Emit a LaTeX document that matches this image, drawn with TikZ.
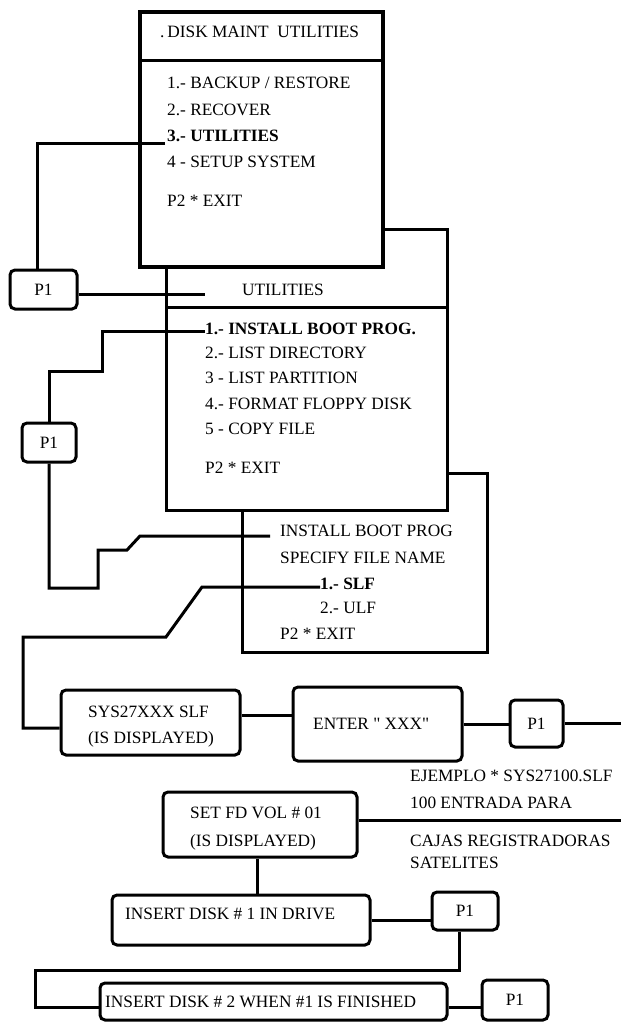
\documentclass[tikz,border=0pt]{standalone}
\usepackage{fontspec}
\setmainfont{Liberation Serif}[Ligatures=TeXOff]
\newcommand\fs{\fontsize{17.3}{20}\selectfont}
\tikzset{
  ln/.style={line width=3pt, line join=miter},
  rbox/.style={draw, line width=3pt, rounded corners=5pt, inner sep=0pt, font=\fs},
  sqbox/.style={draw, line width=3.2pt, inner sep=0pt},
  txt/.style={inner sep=0pt, anchor=base west, font=\fs},
  ctxt/.style={inner sep=0pt, anchor=base, font=\fs},
}
\begin{document}
\begin{tikzpicture}[x=1pt,y=-1pt]
\useasboundingbox (0,0) rectangle (621,1022);

% ---------- top box: DISK MAINT UTILITIES ----------
\node[sqbox, minimum width=243pt, minimum height=255pt] (dm) at (261.5,139.5) {};
\coordinate (dmd1) at (140,61); \coordinate (dmd2) at (383,61);
\draw[ln] (dmd1) -- (dmd2);
\node[txt] (dmh) at (160,38) {.\,DISK MAINT\ \ UTILITIES};
\node[txt] (dm1) at (167,89) {1.- BACKUP / RESTORE};
\node[txt] (dm2) at (167,116) {2.- RECOVER};
\node[txt] (dm3) at (167,141) {\bfseries 3.- UTILITIES};
\node[txt] (dm4) at (167,167) {4 - SETUP SYSTEM};
\node[txt] (dm5) at (167,206) {P2 * EXIT};

% ---------- P1 (first) ----------
\node[rbox, minimum width=67pt, minimum height=39pt] (p1a) at (43.5,289.5) {P1};
\coordinate (a0) at (165,143); \coordinate (a1) at (37,143);
\draw[ln] (a0) -- (a1) -- (a1 |- p1a.north);
\coordinate (ah) at (205,294);
\draw[ln] ([yshift=-4.5pt]p1a.east) -- (ah);

% ---------- UTILITIES box ----------
\coordinate (u0) at (166,267); \coordinate (u1) at (166,510);
\coordinate (u2) at (447,510); \coordinate (u3) at (447,229);
\coordinate (u4) at (383,229);
\draw[ln] (u0) -- (u1) -- (u2) -- (u3) -- (u4);
\coordinate (ud1) at (166,307); \coordinate (ud2) at (447,307);
\draw[ln] (ud1) -- (ud2);
\node[ctxt] (uh) at (283,295) {UTILITIES};
\node[txt] (ut1) at (205,334) {\bfseries 1.- INSTALL BOOT PROG.};
\node[txt] (ut2) at (205,358) {2.- LIST DIRECTORY};
\node[txt] (ut3) at (205,383) {3 - LIST PARTITION};
\node[txt] (ut4) at (205,409) {4.- FORMAT FLOPPY DISK};
\node[txt] (ut5) at (205,434) {5 - COPY FILE};
\node[txt] (ut6) at (205,473) {P2 * EXIT};

% ---------- P1 (second) ----------
\node[rbox, minimum width=54pt, minimum height=39pt] (p1b) at (49,442.5) {P1};
\coordinate (b0) at (205,331); \coordinate (b1) at (102,331);
\coordinate (b2) at (102,371); \coordinate (b3) at (49,371);
\draw[ln] (b0) -- (b1) -- (b2) -- (b3) -- (p1b.north);
\coordinate (c1) at (49,588); \coordinate (c2) at (98,588);
\coordinate (c3) at (98,550); \coordinate (c4) at (127,550);
\coordinate (c5) at (140,536); \coordinate (c6) at (270,536);
\draw[ln] (p1b.south) -- (c1) -- (c2) -- (c3) -- (c4) -- (c5) -- (c6);

% ---------- INSTALL BOOT PROG box ----------
\coordinate (i0) at (242,510); \coordinate (i1) at (242,652);
\coordinate (i2) at (487,652); \coordinate (i3) at (487,473);
\coordinate (i4) at (447,473);
\draw[ln] (i0) -- (i1) -- (i2) -- (i3) -- (i4);
\node[txt] (it1) at (280,536) {INSTALL BOOT PROG};
\node[txt] (it2) at (280,563) {SPECIFY FILE NAME};
\node[txt] (it3) at (320,589) {\bfseries 1.- SLF};
\node[txt] (it4) at (320,613) {2.- ULF};
\node[txt] (it5) at (280,639) {P2 * EXIT};

% ---------- SYS27XXX / ENTER / P1 row ----------
\node[rbox, minimum width=179pt, minimum height=65pt] (sys) at (150.5,722.5) {};
\node[txt] (sys1) at (88,717) {SYS27XXX SLF};
\node[txt] (sys2) at (88,743) {(IS DISPLAYED)};
\node[rbox, minimum width=169pt, minimum height=74pt] (enter) at (377.5,724) {};
\node[txt] (ent) at (313,729) {ENTER " XXX"};
\node[rbox, minimum width=53pt, minimum height=47pt] (p1c) at (536.5,723.5) {P1};

\coordinate (d0) at (320,587); \coordinate (d1) at (202,587);
\coordinate (d2) at (166,637); \coordinate (d3) at (23,637);
\coordinate (d4) at (23,728);
\draw[ln] (d0) -- (d1) -- (d2) -- (d3) -- (d4) -- (d4 -| sys.west);
\draw[ln] ([yshift=7.5pt]sys.east) -- ([yshift=7.5pt]sys.east -| enter.west);
\draw[ln] (enter.east) -- (enter.east -| p1c.west);
\coordinate (r1) at (621,723.5);
\draw[ln] (p1c.east) -- (r1);

% ---------- example text ----------
\node[txt] (ex1) at (410,781) {EJEMPLO * SYS27100.SLF};
\node[txt] (ex2) at (410,808) {100 ENTRADA PARA};
\node[txt] (ex3) at (410,846) {CAJAS REGISTRADORAS};
\node[txt] (ex4) at (410,868) {SATELITES};

% ---------- SET FD VOL ----------
\node[rbox, minimum width=194pt, minimum height=65pt] (setfd) at (260,824.5) {};
\node[txt] (sf1) at (190,818) {SET FD VOL \# 01};
\node[txt] (sf2) at (190,846) {(IS DISPLAYED)};
\coordinate (r2) at (621,820);
\draw[ln] ([yshift=4.5pt]setfd.east) -- (r2);

% ---------- INSERT DISK #1 ----------
\node[rbox, minimum width=258pt, minimum height=50pt] (ins1) at (241,920) {};
\node[txt] (in1) at (125,919) {INSERT DISK \# 1 IN DRIVE};
\draw[ln] ([xshift=-3pt]setfd.south) -- ([xshift=-3pt]setfd.south |- ins1.north);
\node[rbox, minimum width=66pt, minimum height=38pt] (p1d) at (465,911) {P1};
\draw[ln] (ins1.east) -- (ins1.east -| p1d.west);

% ---------- INSERT DISK #2 ----------
\node[rbox, minimum width=347pt, minimum height=37pt] (ins2) at (273.5,1001.5) {};
\node[txt] (in2) at (105,1007) {INSERT DISK \# 2 WHEN \#1 IS FINISHED};
\node[rbox, minimum width=66pt, minimum height=40pt] (p1e) at (515,1000) {P1};
\coordinate (l1) at (459,970); \coordinate (l2) at (35,970);
\coordinate (l3) at (35,1007);
\draw[ln] ([xshift=-6pt]p1d.south) -- (l1) -- (l2) -- (l3) -- (l3 -| ins2.west);
\draw[ln] ([yshift=-6pt]ins2.east) -- ([yshift=-6pt]ins2.east -| p1e.west);
\end{tikzpicture}
\end{document}
